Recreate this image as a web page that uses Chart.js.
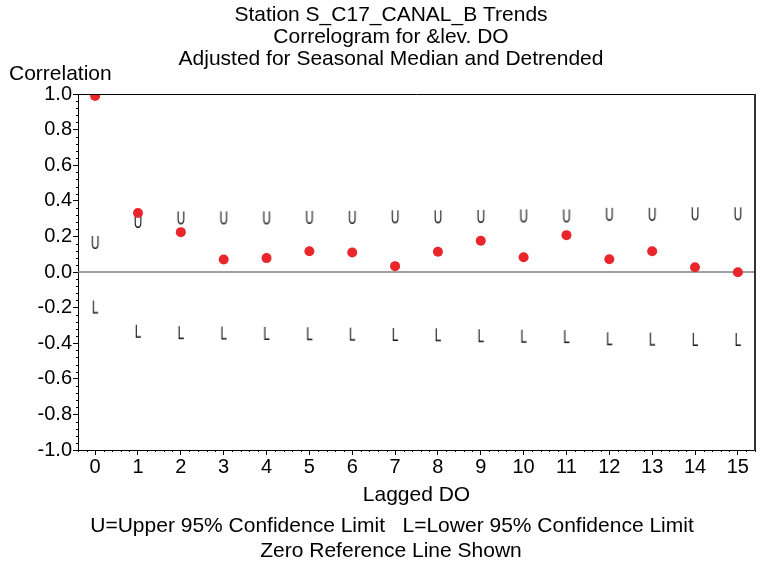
<!DOCTYPE html>
<html>
<head>
<meta charset="utf-8">
<script src="https://cdn.jsdelivr.net/npm/chart.js@4/dist/chart.umd.min.js"></script>
<style>
  html, body { margin: 0; padding: 0; background: #ffffff; }
  #wrap { width: 767px; height: 563px; position: relative; }
</style>
</head>
<body>
<div id="wrap"><canvas id="c"></canvas></div>
<script>
// ---- data ----
const lags = [0, 1, 2, 3, 4, 5, 6, 7, 8, 9, 10, 11, 12, 13, 14, 15];
const correlation = [0.989, 0.331, 0.224, 0.070, 0.078, 0.117, 0.110, 0.033, 0.114, 0.176, 0.083, 0.207, 0.072, 0.117, 0.027, -0.001];
const upperLimit = [0.169, 0.287, 0.307, 0.307, 0.307, 0.310, 0.310, 0.313, 0.313, 0.315, 0.318, 0.318, 0.327, 0.327, 0.330, 0.330];
const lowerLimit = [-0.194, -0.330, -0.338, -0.340, -0.342, -0.344, -0.346, -0.348, -0.350, -0.355, -0.358, -0.360, -0.372, -0.374, -0.376, -0.376];
const xTickLabels = ['0','1','2','3','4','5','6','7','8','9','10','11','12','13','14','15'];
const yTickLabels = ['-1.0','-0.8','-0.6','-0.4','-0.2','0.0','0.2','0.4','0.6','0.8','1.0'];
const zeroRef = [0, 0];
const xRange = [-0.4, 15.4];
const titleLines = ['Station S_C17_CANAL_B Trends', 'Correlogram for &lev. DO', 'Adjusted for Seasonal Median and Detrended'];
const yAxisTitle = 'Correlation';
const xAxisTitle = 'Lagged DO';
const footnotes = ['U=Upper 95% Confidence Limit   L=Lower 95% Confidence Limit', 'Zero Reference Line Shown'];

const FONT = '"Liberation Sans", Arial, Helvetica, sans-serif';

function makeGlyph(ch) {
  const cv = document.createElement('canvas');
  cv.width = 12; cv.height = 20;
  const g = cv.getContext('2d');
  g.fillStyle = '#111111';
  g.font = '18px ' + FONT;
  g.textAlign = 'center';
  g.textBaseline = 'alphabetic';
  g.setTransform(0.66, 0, 0, 1, 6, 0);
  g.fillText(ch, 0, 16.5);
  return cv;
}
const glyphU = makeGlyph('U');
const glyphL = makeGlyph('L');

const pts = (vals) => lags.map((x, i) => ({ x: x, y: vals[i] }));

const decor = {
  id: 'decor',
  afterDraw(chart) {
    const ctx = chart.ctx;
    const a = chart.chartArea;
    const xs = chart.scales.x, ys = chart.scales.y;
    ctx.save();
    // frame top and right
    ctx.strokeStyle = '#000';
    ctx.lineWidth = 1;
    ctx.beginPath();
    ctx.moveTo(Math.round(a.left) + 0.5, Math.round(a.top) + 0.5);
    ctx.lineTo(Math.round(a.right), Math.round(a.top) + 0.5);
    ctx.stroke();
    ctx.strokeStyle = '#333';
    ctx.lineWidth = 2;
    ctx.beginPath();
    ctx.moveTo(Math.round(a.right), Math.round(a.top));
    ctx.lineTo(Math.round(a.right), Math.round(a.bottom) + 1);
    ctx.stroke();
    // minor ticks
    ctx.strokeStyle = '#000';
    ctx.lineWidth = 1;
    ctx.beginPath();
    for (let k = -25; k <= 25; k++) {
      if (k % 5 === 0) continue;
      const y = Math.round(ys.getPixelForValue(k * 0.04)) + 0.5;
      ctx.moveTo(a.left - 2, y); ctx.lineTo(a.left, y);
    }
    for (let k = -2; k <= 77; k++) {
      if (k % 5 === 0) continue;
      const x = Math.round(xs.getPixelForValue(k * 0.2)) + 0.5;
      ctx.moveTo(x, a.bottom); ctx.lineTo(x, a.bottom + 2);
    }
    ctx.stroke();
    // texts
    ctx.fillStyle = '#000';
    ctx.font = '21px ' + FONT;
    ctx.textBaseline = 'alphabetic';
    ctx.textAlign = 'center';
    const tb = [21, 43, 65];
    titleLines.forEach((t, i) => ctx.fillText(t, 391, tb[i]));
    ctx.textAlign = 'left';
    ctx.fillText(yAxisTitle, 9, 80);
    ctx.textAlign = 'center';
    ctx.fillText(xAxisTitle, (a.left + a.right) / 2, 501);
    ctx.fillText(footnotes[0], 392, 532);
    ctx.fillText(footnotes[1], 391, 557);
    ctx.restore();
  }
};

new Chart(document.getElementById('c'), {
  type: 'scatter',
  data: {
    datasets: [
      {
        label: 'Correlation',
        data: pts(correlation),
        pointRadius: 5,
        pointBackgroundColor: '#E8262B',
        pointBorderColor: '#E8262B',
        pointBorderWidth: 0,
        showLine: false
      },
      {
        label: 'Upper',
        data: pts(upperLimit),
        pointStyle: glyphU,
        pointRadius: 6,
        showLine: false
      },
      {
        label: 'Lower',
        data: pts(lowerLimit),
        pointStyle: glyphL,
        pointRadius: 6,
        showLine: false
      },
      {
        label: 'Zero',
        type: 'line',
        data: xRange.map((x, i) => ({ x: x, y: zeroRef[i] })),
        borderColor: '#808080',
        borderWidth: 1.3,
        pointRadius: 0,
        fill: false
      }
    ]
  },
  options: {
    responsive: true,
    maintainAspectRatio: false,
    animation: false,
    events: [],
    layout: { padding: { left: 0, right: 12, top: 94, bottom: 73 } },
    plugins: {
      legend: { display: false },
      title: { display: false },
      tooltip: { enabled: false }
    },
    scales: {
      x: {
        type: 'linear',
        min: xRange[0],
        max: xRange[1],
        afterFit: (s) => { s.height = 40; },
        afterBuildTicks: (s) => { s.ticks = lags.map(v => ({ value: v })); },
        ticks: {
          autoSkip: false,
          maxRotation: 0,
          padding: 0,
          color: '#000',
          font: { family: FONT, size: 20 },
          callback: (v, i) => xTickLabels[lags.indexOf(v)] ?? ''
        },
        grid: { drawOnChartArea: false, drawTicks: true, tickLength: 5, tickColor: '#000' },
        border: { display: true, color: '#000', width: 1 }
      },
      y: {
        type: 'linear',
        min: -1,
        max: 1,
        afterFit: (s) => { s.width = 78; },
        afterBuildTicks: (s) => { s.ticks = yTickLabels.map(t => ({ value: parseFloat(t) })); },
        ticks: {
          autoSkip: false,
          padding: 1,
          color: '#000',
          font: { family: FONT, size: 20 },
          callback: (v, i) => yTickLabels[i]
        },
        grid: { drawOnChartArea: false, drawTicks: true, tickLength: 5, tickColor: '#000' },
        border: { display: true, color: '#000', width: 1 }
      }
    }
  },
  plugins: [decor]
});
</script>
</body>
</html>
